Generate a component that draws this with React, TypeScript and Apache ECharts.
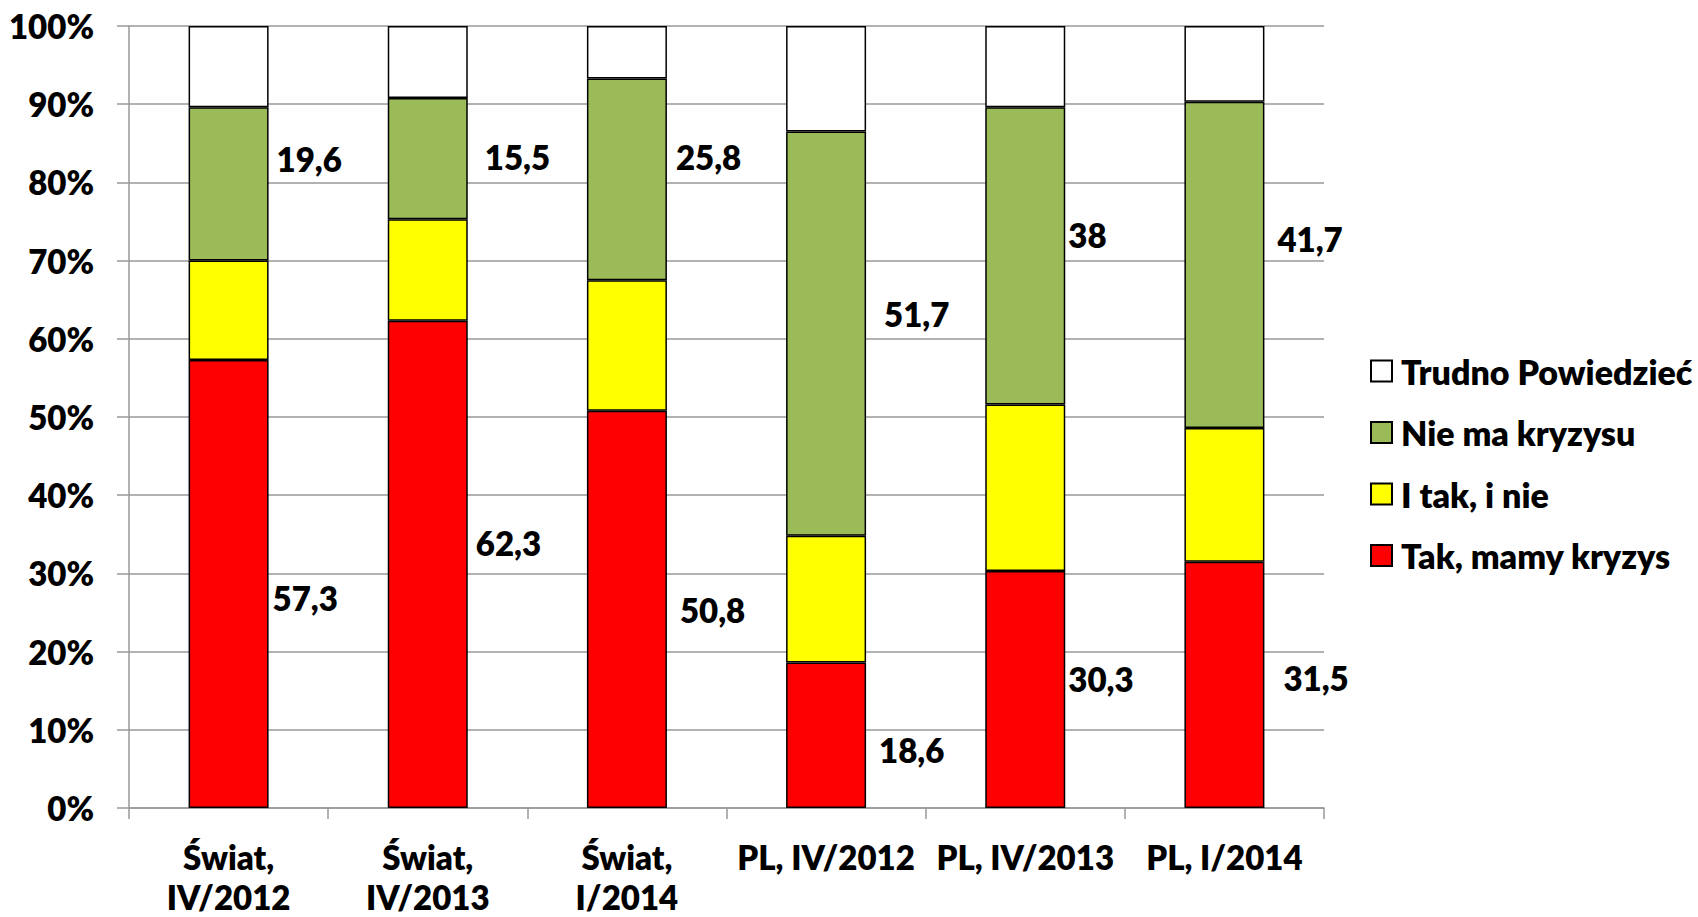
import React, { useEffect, useRef } from "react";
import * as echarts from "echarts";

const categories = [
  "Świat,\nIV/2012",
  "Świat,\nIV/2013",
  "Świat,\nI/2014",
  "PL, IV/2012",
  "PL, IV/2013",
  "PL, I/2014",
];
const takMamyKryzys = [57.3, 62.3, 50.8, 18.6, 30.3, 31.5];
const iTakINie = [12.7, 13.0, 16.7, 16.2, 21.3, 17.1];
const nieMaKryzysu = [19.6, 15.5, 25.8, 51.7, 38, 41.7];
const trudnoPowiedziec = [10.4, 9.2, 6.7, 13.5, 10.4, 9.7];
const yTicks = [0, 10, 20, 30, 40, 50, 60, 70, 80, 90, 100];

// label nudges [dx, dy] relative to the right-middle of each segment
const takLabelNudge = [
  [4, 14],
  [8, -21],
  [13, 1],
  [13, 15],
  [3, -11],
  [19, -7],
];
const nieLabelNudge = [
  [8, -25],
  [17, -2],
  [9, -22],
  [18, -20],
  [3, -21],
  [13, -26],
];

const FONT = "Lato, 'Open Sans', sans-serif";
const WEIGHT = 800;
const fmt = (v: number) => String(v).replace(".", ",");

export default function App() {
  const ref = useRef<HTMLDivElement>(null);
  useEffect(() => {
    if (!ref.current) return;
    const chart = echarts.init(ref.current, undefined, { renderer: "svg" });
    const labelStyle = {
      fontFamily: FONT,
      fontWeight: WEIGHT,
      fontSize: 33,
      color: "#000",
    };
    const border = { borderColor: "#000", borderWidth: 1.5 };
    chart.setOption({
      animation: false,
      backgroundColor: "#fff",
      grid: {
        left: 129,
        right: 374,
        top: 26,
        bottom: 109,
        containLabel: false,
        outerBoundsMode: "none",
      },
      legend: {
        orient: "vertical",
        left: 1370,
        top: 354,
        padding: 0,
        itemWidth: 21,
        itemHeight: 21,
        itemGap: 27.5,
        icon: "rect",
        data: ["Trudno Powiedzieć", "Nie ma kryzysu", "I tak, i nie", "Tak, mamy kryzys"],
        textStyle: {
          fontFamily: FONT,
          fontWeight: WEIGHT,
          fontSize: 34,
          color: "#000",
          lineHeight: 34,
          padding: [0, 0, 0, 4],
        },
      },
      xAxis: {
        type: "category",
        data: categories,
        axisLine: { show: true, lineStyle: { color: "#999", width: 1.5 } },
        axisTick: { show: true, length: 11, lineStyle: { color: "#999", width: 1.5 } },
        axisLabel: {
          fontFamily: FONT,
          fontWeight: WEIGHT,
          fontSize: 33,
          color: "#000",
          lineHeight: 40,
          margin: 29,
          interval: 0,
        },
      },
      yAxis: {
        type: "value",
        min: yTicks[0],
        max: yTicks[yTicks.length - 1],
        interval: 10,
        axisLine: { show: true, lineStyle: { color: "#999", width: 1.5 } },
        axisTick: { show: true, length: 12, lineStyle: { color: "#999", width: 1.5 } },
        splitLine: { show: true, lineStyle: { color: "#999", width: 1.5 } },
        axisLabel: {
          formatter: "{value}%",
          fontFamily: FONT,
          fontWeight: WEIGHT,
          fontSize: 33,
          color: "#000",
          margin: 35,
        },
      },
      series: [
        {
          name: "Tak, mamy kryzys",
          type: "bar",
          stack: "s",
          barWidth: 80,
          itemStyle: { color: "#FF0000", ...border },
          data: takMamyKryzys.map((v, i) => ({
            value: v,
            label: {
              show: true,
              position: "right",
              distance: 0,
              offset: takLabelNudge[i],
              formatter: () => fmt(v),
              ...labelStyle,
            },
          })),
        },
        {
          name: "I tak, i nie",
          type: "bar",
          stack: "s",
          barWidth: 80,
          itemStyle: { color: "#FFFF00", ...border },
          data: iTakINie,
        },
        {
          name: "Nie ma kryzysu",
          type: "bar",
          stack: "s",
          barWidth: 80,
          itemStyle: { color: "#9BBB59", ...border },
          data: nieMaKryzysu.map((v, i) => ({
            value: v,
            label: {
              show: true,
              position: "right",
              distance: 0,
              offset: nieLabelNudge[i],
              formatter: () => fmt(v),
              ...labelStyle,
            },
          })),
        },
        {
          name: "Trudno Powiedzieć",
          type: "bar",
          stack: "s",
          barWidth: 80,
          itemStyle: { color: "#FFFFFF", ...border },
          data: trudnoPowiedziec,
        },
      ],
    });
    return () => chart.dispose();
  }, []);
  return (
    <div
      ref={ref}
      style={{ position: "absolute", left: 0, top: 0, width: 1698, height: 917 }}
    />
  );
}
